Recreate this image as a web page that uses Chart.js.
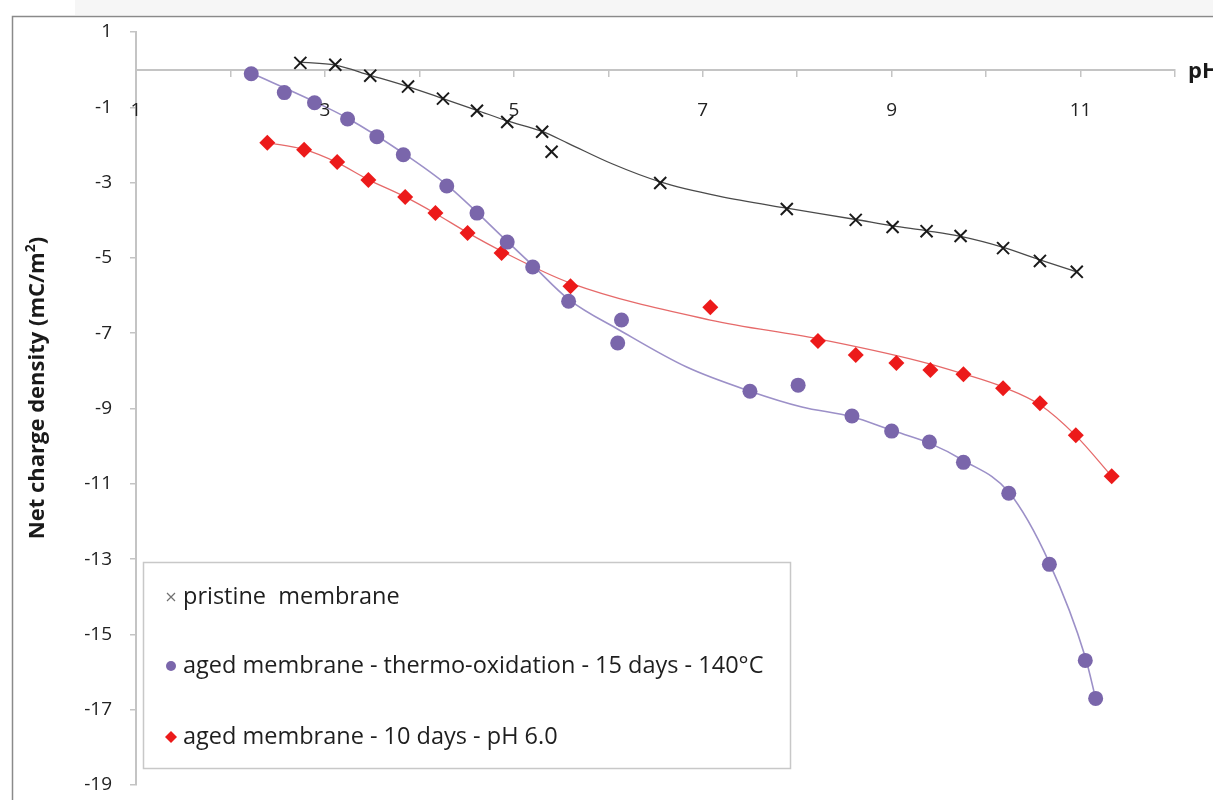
<!DOCTYPE html>
<html>
<head>
<meta charset="utf-8">
<script src="https://cdn.jsdelivr.net/npm/chart.js@4/dist/chart.umd.min.js"></script>
<style>
  html, body { margin: 0; padding: 0; background: #fff; }
  #wrap { width: 1213px; height: 800px; position: relative; }
</style>
</head>
<body>
<div id="wrap"><canvas id="chargeChart" width="1213" height="800"></canvas></div>
<script>
// Valeurs
const pristinePH = [2.74, 3.11, 3.48, 3.88, 4.25, 4.61, 4.93, 5.30, 5.40, 6.55, 7.89, 8.62, 9.01, 9.37, 9.73, 10.18, 10.57, 10.96];
const pristineCharge = [0.18, 0.13, -0.16, -0.45, -0.77, -1.09, -1.39, -1.65, -2.18, -3.01, -3.70, -3.99, -4.18, -4.29, -4.42, -4.74, -5.08, -5.37];

const thermoPH = [2.22, 2.57, 2.89, 3.24, 3.55, 3.83, 4.29, 4.61, 4.93, 5.20, 5.58, 6.14, 6.10, 7.50, 8.01, 8.58, 9.00, 9.40, 9.76, 10.24, 10.67, 11.05, 11.16];
const thermoCharge = [-0.11, -0.61, -0.88, -1.31, -1.78, -2.26, -3.09, -3.81, -4.58, -5.24, -6.15, -6.65, -7.26, -8.54, -8.38, -9.20, -9.60, -9.89, -10.43, -11.25, -13.14, -15.69, -16.70];

const agedPH = [2.39, 2.78, 3.13, 3.46, 3.85, 4.17, 4.51, 4.87, 5.60, 7.08, 8.22, 8.62, 9.05, 9.41, 9.76, 10.18, 10.57, 10.95, 11.33];
const agedCharge = [-1.94, -2.13, -2.45, -2.93, -3.38, -3.81, -4.34, -4.87, -5.75, -6.31, -7.21, -7.58, -7.79, -7.98, -8.09, -8.46, -8.86, -9.71, -10.80];

// Courbes de tendance
const pristineFitPH = [2.74, 3.11, 3.48, 3.88, 4.25, 4.61, 4.93, 5.30, 5.57, 6.04, 6.55, 7.17, 7.89, 8.62, 9.01, 9.37, 9.73, 10.18, 10.57, 10.96];
const pristineFitCharge = [0.20, 0.12, -0.15, -0.45, -0.77, -1.08, -1.36, -1.64, -1.95, -2.50, -2.98, -3.36, -3.68, -3.98, -4.15, -4.28, -4.43, -4.72, -5.05, -5.37];

const thermoFitPH = [2.22, 2.89, 3.24, 3.83, 4.29, 4.93, 5.20, 5.58, 6.12, 6.83, 7.50, 8.05, 8.58, 9.00, 9.40, 9.76, 10.24, 10.67, 11.05, 11.16];
const thermoFitCharge = [-0.09, -0.85, -1.29, -2.22, -3.06, -4.56, -5.20, -6.10, -6.92, -7.90, -8.54, -8.96, -9.22, -9.58, -9.92, -10.38, -11.22, -13.10, -15.60, -16.70];

const agedFitPH = [2.39, 2.78, 3.13, 3.46, 3.85, 4.17, 4.51, 4.87, 5.60, 7.08, 8.22, 9.29, 9.76, 10.18, 10.57, 10.95, 11.33];
const agedFitCharge = [-1.94, -2.12, -2.47, -2.92, -3.38, -3.82, -4.33, -4.82, -5.67, -6.65, -7.15, -7.74, -8.08, -8.43, -8.90, -9.72, -10.80];

const legendLabels = ['pristine  membrane', 'aged membrane - thermo-oxidation - 15 days - 140°C', 'aged membrane - 10 days - pH 6.0'];
const yTitle = 'Net charge density (mC/m';
const xTitle = 'pH';

const FONT = '"Open Sans", Lato, sans-serif';
const PURPLE = '#7a66ab';
const RED = '#ec1a1a';

function toPoints(xs, ys) {
    return xs.map((x, i) => ({ x: x, y: ys[i] }));
}

// Décor : cadre, titres, légende
const decorPlugin = {
    id: 'decor',
    beforeDraw(chart) {
        const ctx = chart.ctx;
        ctx.save();
        ctx.fillStyle = '#ffffff';
        ctx.fillRect(0, 0, chart.width, chart.height);
        ctx.fillStyle = '#f6f6f6';
        ctx.fillRect(75, 0, chart.width - 75, 15);
        ctx.strokeStyle = '#8a8a8a';
        ctx.lineWidth = 1.5;
        ctx.beginPath();
        ctx.moveTo(12.5, chart.height);
        ctx.lineTo(12.5, 16.5);
        ctx.lineTo(chart.width, 16.5);
        ctx.stroke();
        ctx.restore();
    },
    afterDraw(chart) {
        const ctx = chart.ctx;
        ctx.save();
        // titre axe Y
        ctx.translate(38, 388);
        ctx.rotate(-Math.PI / 2);
        ctx.fillStyle = '#1a1a1a';
        ctx.font = 'bold 22px ' + FONT;
        ctx.textAlign = 'left';
        ctx.textBaseline = 'middle';
        const w1 = ctx.measureText(yTitle).width;
        ctx.font = 'bold 14px ' + FONT;
        const w2 = ctx.measureText('2').width;
        ctx.font = 'bold 22px ' + FONT;
        const w3 = ctx.measureText(')').width;
        const x0 = -(w1 + w2 + w3) / 2;
        ctx.fillText(yTitle, x0, 0);
        ctx.font = 'bold 14px ' + FONT;
        ctx.fillText('2', x0 + w1, -7);
        ctx.font = 'bold 22px ' + FONT;
        ctx.fillText(')', x0 + w1 + w2, 0);
        ctx.restore();

        // titre axe X
        ctx.save();
        ctx.fillStyle = '#1a1a1a';
        ctx.font = 'bold 22px ' + FONT;
        ctx.textBaseline = 'middle';
        ctx.fillText(xTitle, 1188, 72);
        ctx.restore();

        // légende
        ctx.save();
        ctx.fillStyle = '#ffffff';
        ctx.fillRect(143, 562, 647, 206);
        ctx.strokeStyle = '#c8c8c8';
        ctx.lineWidth = 1.5;
        ctx.strokeRect(143.5, 562.5, 647, 206);
        const rows = [597, 666, 737];
        ctx.font = '23.5px ' + FONT;
        ctx.fillStyle = '#1e1e1e';
        ctx.textBaseline = 'middle';
        legendLabels.forEach((txt, i) => {
            ctx.fillText(txt, 183, rows[i]);
        });
        // symboles
        ctx.strokeStyle = '#707070';
        ctx.lineWidth = 1.2;
        ctx.beginPath();
        ctx.moveTo(167, rows[0] - 4); ctx.lineTo(175, rows[0] + 4);
        ctx.moveTo(175, rows[0] - 4); ctx.lineTo(167, rows[0] + 4);
        ctx.stroke();
        ctx.fillStyle = PURPLE;
        ctx.beginPath();
        ctx.arc(171, rows[1], 5, 0, Math.PI * 2);
        ctx.fill();
        ctx.fillStyle = RED;
        ctx.beginPath();
        ctx.moveTo(171, rows[2] - 6); ctx.lineTo(177, rows[2]);
        ctx.lineTo(171, rows[2] + 6); ctx.lineTo(165, rows[2]);
        ctx.closePath();
        ctx.fill();
        ctx.restore();
    }
};

const ctx = document.getElementById('chargeChart');
new Chart(ctx.getContext('2d'), {
    type: 'scatter',
    data: {
        datasets: [
            {
                label: legendLabels[0],
                data: toPoints(pristinePH, pristineCharge),
                pointStyle: 'crossRot',
                pointRadius: 8.5,
                borderColor: '#1a1a1a',
                pointBorderWidth: 2,
                showLine: false,
                order: 1
            },
            {
                label: legendLabels[1],
                data: toPoints(thermoPH, thermoCharge),
                pointStyle: 'circle',
                pointRadius: 7.5,
                backgroundColor: PURPLE,
                borderColor: PURPLE,
                pointBorderWidth: 0,
                showLine: false,
                order: 1
            },
            {
                label: legendLabels[2],
                data: toPoints(agedPH, agedCharge),
                pointStyle: 'rectRot',
                pointRadius: 8,
                backgroundColor: RED,
                borderColor: RED,
                pointBorderWidth: 0,
                showLine: false,
                order: 1
            },
            {
                label: 'fit pristine',
                data: toPoints(pristineFitPH, pristineFitCharge),
                showLine: true,
                borderColor: '#4a4a4a',
                borderWidth: 1.3,
                pointRadius: 0,
                cubicInterpolationMode: 'monotone',
                order: 2
            },
            {
                label: 'fit thermo',
                data: toPoints(thermoFitPH, thermoFitCharge),
                showLine: true,
                borderColor: '#9c90c8',
                borderWidth: 1.6,
                pointRadius: 0,
                cubicInterpolationMode: 'monotone',
                order: 2
            },
            {
                label: 'fit aged',
                data: toPoints(agedFitPH, agedFitCharge),
                showLine: true,
                borderColor: '#e66a6a',
                borderWidth: 1.3,
                pointRadius: 0,
                cubicInterpolationMode: 'monotone',
                order: 2
            }
        ]
    },
    options: {
        responsive: false,
        animation: false,
        layout: { padding: { left: 0, top: 32, right: 38, bottom: 15 } },
        plugins: { legend: { display: false }, tooltip: { enabled: false } },
        scales: {
            x: {
                type: 'linear',
                min: 1,
                max: 12,
                position: { y: 0 },
                afterFit: s => { s.height = 0; },
                ticks: {
                    stepSize: 1,
                    padding: 24,
                    z: 1,
                    color: '#222',
                    font: { family: FONT, size: 19 },
                    maxRotation: 0,
                    autoSkip: false,
                    callback: v => (v % 2 === 1 ? v : '')
                },
                grid: { drawOnChartArea: false, tickLength: 6, color: '#c4c4c4', lineWidth: 1.5 },
                border: { color: '#c4c4c4', width: 2 }
            },
            y: {
                min: -19,
                max: 1,
                afterFit: s => {
                    s.width = 136;
                    s.paddingTop = 0;
                    s.paddingBottom = 0;
                },
                ticks: {
                    stepSize: 2,
                    padding: 18,
                    color: '#222',
                    font: { family: FONT, size: 19 }
                },
                grid: { drawOnChartArea: false, tickLength: 6, color: '#c4c4c4', lineWidth: 1.5 },
                border: { color: '#c4c4c4', width: 2 }
            }
        }
    },
    plugins: [decorPlugin]
});
</script>
</body>
</html>
